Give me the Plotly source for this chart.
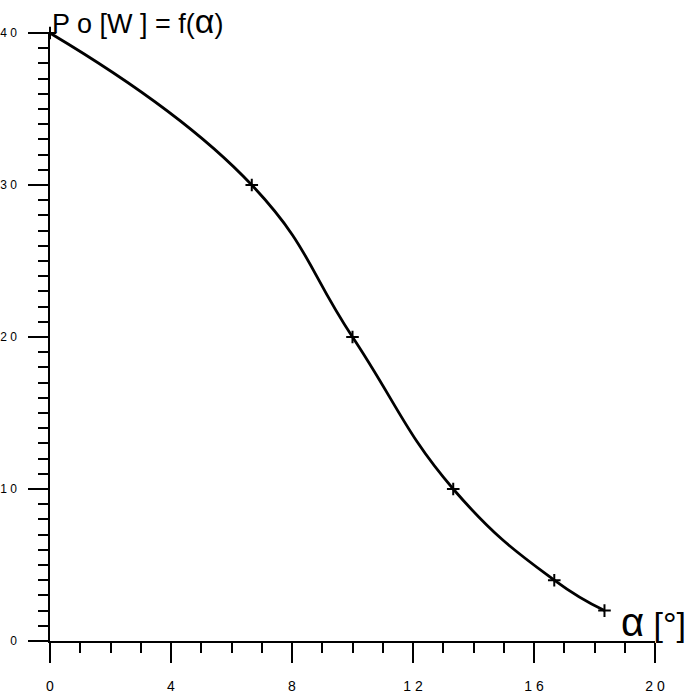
import plotly.graph_objects as go

# data
alpha_deg = [0, 6.67, 10, 13.33, 16.67, 18.33]
power_w = [40, 30, 20, 10, 4, 2]

x_tick_vals = [0, 4, 8, 12, 16, 20]
x_tick_text = ["0", "4", "8", "1 2", "1 6", "2 0"]
y_tick_vals = [0, 10, 20, 30, 40]
y_tick_text = ["0", "1 0", "2 0", "3 0", "4 0"]

FONT = "Liberation Sans Narrow, Liberation Sans, Arial, sans-serif"

fig = go.Figure(
    go.Scatter(
        x=alpha_deg,
        y=power_w,
        mode="lines+markers",
        line=dict(color="black", width=2.8, shape="spline", smoothing=1.3),
        marker=dict(symbol="cross-thin", size=9, color="black",
                    line=dict(color="black", width=2)),
        cliponaxis=False,
        showlegend=False,
    )
)

axis_common = dict(
    showline=True, linecolor="black", linewidth=1.5,
    ticks="outside", ticklen=20, tickwidth=1.5, tickcolor="black",
    showgrid=False, zeroline=False, automargin=False,
    tickmode="array",
    minor=dict(tick0=0, dtick=1, ticks="outside", ticklen=10,
               tickwidth=1.5, tickcolor="black", showgrid=False),
)

fig.update_layout(
    width=689, height=698,
    margin=dict(l=50, r=34, t=33, b=57),
    paper_bgcolor="white", plot_bgcolor="white",
    xaxis=dict(range=[0, 20], tickvals=x_tick_vals, ticktext=x_tick_text,
               ticklabelstandoff=11,
               tickfont=dict(family=FONT, size=14, color="black"),
               **axis_common),
    yaxis=dict(range=[0, 40], tickvals=y_tick_vals, ticktext=y_tick_text,
               ticklabelstandoff=9,
               tickfont=dict(family=FONT, size=12, color="black"),
               **axis_common),
    annotations=[
        dict(text="P o [W ] = f(<span style='font-size:34px'>α</span>)",
             xref="paper", yref="paper", x=0, y=1, xanchor="left",
             yanchor="bottom", xshift=0, yshift=-9, showarrow=False,
             font=dict(family=FONT, size=27, color="black")),
        dict(text="<span style='font-size:40px'>α</span> [°]",
             xref="paper", yref="paper", x=1, y=0, xanchor="right",
             yanchor="bottom", xshift=33, yshift=-5, showarrow=False,
             font=dict(family=FONT, size=34, color="black")),
    ],
)

fig.write_html("out.html",
               config={"displayModeBar": False},
               post_script="document.body.style.margin='0px';"
                           "document.body.style.overflow='hidden';")
